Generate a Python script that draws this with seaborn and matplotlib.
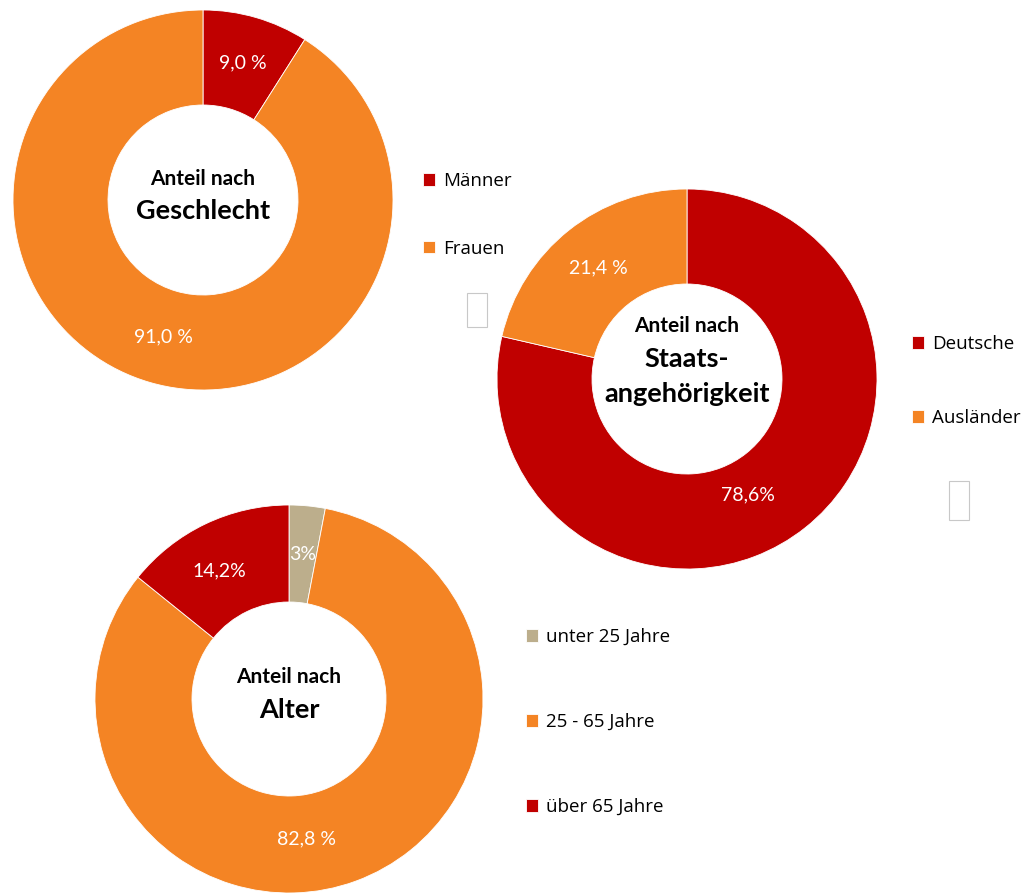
import matplotlib
matplotlib.use("Agg")
import matplotlib.pyplot as plt
import seaborn as sns
from matplotlib.patches import Rectangle

# data
gender_labels = ["Männer", "Frauen"]
gender_values = [9.0, 91.0]
gender_pct = ["9,0 %", "91,0 %"]

nation_labels = ["Deutsche", "Ausländer"]
nation_values = [78.6, 21.4]
nation_pct = ["78,6%", "21,4 %"]

age_labels = ["unter 25 Jahre", "25 - 65 Jahre", "über 65 Jahre"]
age_values = [3.0, 82.8, 14.2]
age_pct = ["3%", "82,8 %", "14,2%"]

RED = "#C00000"
ORANGE = "#F48424"
TAN = "#BCAE8C"

sns.set_theme(style="white")
plt.rcParams["font.family"] = ["Lato", "DejaVu Sans"]

W, H = 1029, 893
fig = plt.figure(figsize=(W / 100, H / 100), dpi=100)
fig.patch.set_facecolor("white")


def px_axes(cx, cy, r):
    # square axes centred on (cx, cy) in pixel coords from top-left
    return fig.add_axes([(cx - r) / W, 1 - (cy + r) / H, 2 * r / W, 2 * r / H])


def donut(ax, values, colors, pct, title_small, title_big, moves):
    it = iter(pct)
    wedges, _, autotexts = ax.pie(
        values, colors=colors, startangle=90, counterclock=False, radius=1,
        autopct=lambda p: next(it), pctdistance=0.75,
        wedgeprops=dict(width=0.5, edgecolor="white", linewidth=0.6),
        textprops=dict(color="white", fontsize=14),
    )
    for i, pos in moves.items():
        autotexts[i].set_position(pos)
    ax.set_xlim(-1, 1)
    ax.set_ylim(-1, 1)
    ax.set_aspect("equal")
    ax.axis("off")
    n = len(title_big)
    top = 0.113 + 0.166 * (n - 1)
    ax.text(0, top, title_small, ha="center", va="center", fontsize=15,
            fontweight="bold", color="black")
    for k, line in enumerate(title_big):
        ax.text(0, top - 0.172 - 0.184 * k, line, ha="center", va="center",
                fontsize=19.5, fontweight="bold", color="black")
    return wedges


def legend(wedges, labels, x, y, spacing):
    fig.legend(wedges, labels, loc="upper left",
               bbox_to_anchor=(x / W, 1 - y / H), bbox_transform=fig.transFigure,
               frameon=False, prop={"family": "Open Sans", "size": 13.5},
               labelcolor="black", handlelength=0.65, handleheight=0.65,
               handletextpad=0.4, labelspacing=spacing, borderpad=0, borderaxespad=0)


# Geschlecht
ax1 = px_axes(203, 200, 190)
w1 = donut(ax1, gender_values, [RED, ORANGE], gender_pct,
           "Anteil nach", ["Geschlecht"], {})
legend(w1, gender_labels, 423, 172, 2.65)

# Staatsangehörigkeit
ax2 = px_axes(687, 379, 190)
w2 = donut(ax2, nation_values, [RED, ORANGE], nation_pct,
           "Anteil nach", ["Staats-", "angehörigkeit"], {0: (0.32, -0.61)})
legend(w2, nation_labels, 912, 335, 2.98)

# Alter
ax3 = px_axes(289, 699, 194)
w3 = donut(ax3, age_values, [TAN, ORANGE, RED], age_pct,
           "Anteil nach", ["Alter"], {1: (0.09, -0.72), 2: (-0.36, 0.66)})
legend(w3, age_labels, 526, 628, 3.57)

# empty placeholder boxes
for bx, by, bw, bh in [(467, 293, 20, 34), (949, 481, 20, 39)]:
    fig.patches.append(Rectangle((bx / W, 1 - (by + bh) / H), bw / W, bh / H,
                                 transform=fig.transFigure, fill=False,
                                 edgecolor="#C8C8C8", linewidth=0.8))

plt.savefig("out.png", dpi=100, facecolor="white")
plt.close()
